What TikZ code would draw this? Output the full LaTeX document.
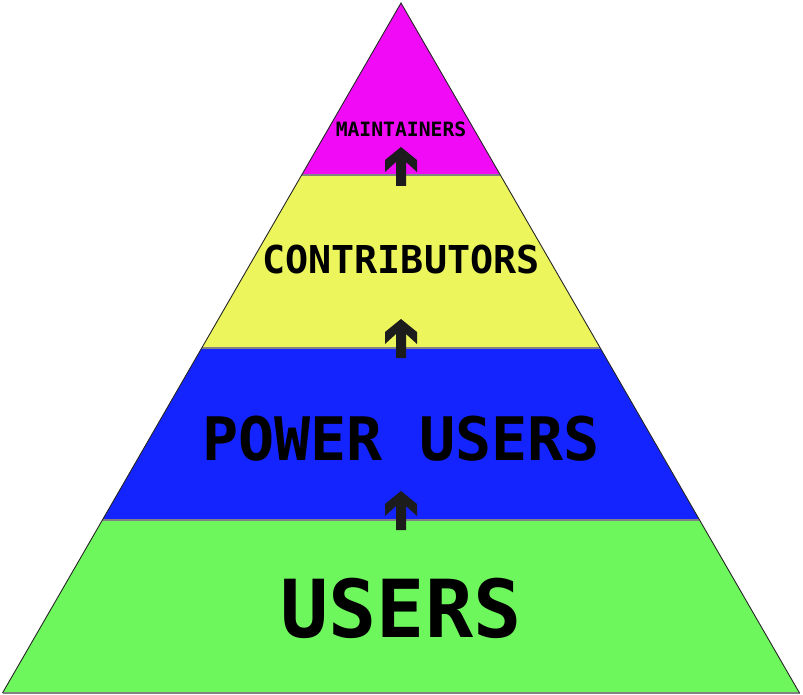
\documentclass[tikz,border=0pt]{standalone}
\usepackage{fontspec}
\newfontfamily\pyrfont{DejaVu Sans Mono}
\definecolor{cmag}{RGB}{240,10,246}
\definecolor{cyel}{RGB}{236,245,92}
\definecolor{cblu}{RGB}{20,36,255}
\definecolor{cgrn}{RGB}{110,247,92}
\definecolor{csep}{RGB}{130,130,130}
\definecolor{carr}{RGB}{28,28,28}
\tikzset{
  layer/.style={draw=none},
  sepline/.style={draw=csep,line width=2.6pt},
  edgeline/.style={draw=black!85,line width=0.9pt,line join=miter},
  label/.style={font=\pyrfont\bfseries,text=black,inner sep=0pt},
  uparrow/.pic={\fill[carr] (0,0) -- (16,13) -- (16,25) -- (5,15) -- (5,39) -- (-5,39) -- (-5,15) -- (-16,25) -- (-16,13) -- cycle;}
}
\begin{document}
\begin{tikzpicture}[x=1pt,y=-1pt]
\useasboundingbox (0,0) rectangle (803,695);
\coordinate (apex) at (401,3);
\coordinate (l1) at (301.7,175); \coordinate (r1) at (500.3,175);
\coordinate (l2) at (201.7,348); \coordinate (r2) at (600.3,348);
\coordinate (l3) at (102.4,520); \coordinate (r3) at (699.6,520);
\coordinate (l4) at (2.5,693);   \coordinate (r4) at (799.5,693);
\fill[cmag] (apex) -- (l1) -- (r1) -- cycle;
\fill[cyel] (l1) -- (r1) -- (r2) -- (l2) -- cycle;
\fill[cblu] (l2) -- (r2) -- (r3) -- (l3) -- cycle;
\fill[cgrn] (l3) -- (r3) -- (r4) -- (l4) -- cycle;
\draw[sepline] (l1) -- (r1);
\draw[sepline] (l2) -- (r2);
\draw[sepline] (l3) -- (r3);
\draw[sepline] (l4) -- (r4);
\draw[edgeline] (l4) -- (apex) -- (r4);
\node[label,font=\pyrfont\bfseries\fontsize{19.7}{20}\selectfont] (maint) at (401,129) {MAINTAINERS};
\node[label,font=\pyrfont\bfseries\fontsize{38.4}{40}\selectfont] (contrib) at (401,260) {CONTRIBUTORS};
\node[label,font=\pyrfont\bfseries\fontsize{60}{60}\selectfont] (power) at (401,439) {POWER USERS};
\node[label,font=\pyrfont\bfseries\fontsize{80}{80}\selectfont] (users) at (401,608) {USERS};
\pic at (401,147) {uparrow};
\pic at (401,319) {uparrow};
\pic at (401,491) {uparrow};
\end{tikzpicture}
\end{document}
